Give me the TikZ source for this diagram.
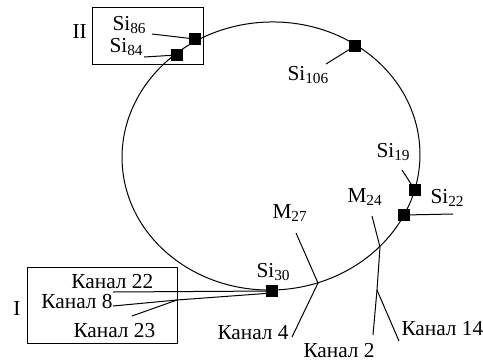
\documentclass[tikz,border=0pt]{standalone}
\usepackage{fontspec}
\setmainfont{Liberation Serif}
\newfontfamily\lserif{Liberation Serif}
\newcommand{\sbs}[1]{\raisebox{-2.6pt}{\fontsize{11.5}{12}\selectfont #1}}
\begin{document}
\begin{tikzpicture}[x=0.75pt,y=-0.75pt,line width=0.75pt,
  lbl/.style={inner sep=0pt,anchor=base west,font=\lserif\fontsize{16}{18}\selectfont},
  sq/.style={fill=black,draw=none,minimum size=8.5pt,inner sep=0pt},
  frame/.style={draw=black,line width=0.75pt}]
\useasboundingbox (0,0) rectangle (483,362);
% loop
\draw[rotate around={3:(271,156)}] (271,156) ellipse [x radius=111.75pt, y radius=100.5pt];
% boxes
\node[frame,inner sep=0pt,minimum width=83.25pt,minimum height=42.75pt] (boxII) at (147.5,35.5) {};
\node[frame,inner sep=0pt,minimum width=112.5pt,minimum height=57pt] (boxI) at (102,305) {};
% squares
\node[sq] (s86) at (195,39) {};
\node[sq] (s84) at (177,55) {};
\node[sq] (s106) at (355,46) {};
\node[sq] (s19) at (415,190) {};
\node[sq] (s22) at (404,215) {};
\node[sq] (s30) at (272,291) {};
% labels
\node[lbl] (tII) at (72,38) {II};
\node[lbl] (tI) at (13,315) {I};
\node[lbl] (t86) at (112,30) {Si\sbs{86}};
\node[lbl] (t84) at (109,52) {Si\sbs{84}};
\node[lbl] (t106) at (287,80) {Si\sbs{106}};
\node[lbl] (t19) at (376,157) {Si\sbs{19}};
\node[lbl] (t22) at (430,203) {Si\sbs{22}};
\node[lbl] (t30) at (256,277) {Si\sbs{30}};
\node[lbl] (tM27) at (272,218) {M\sbs{27}};
\node[lbl] (tM24) at (347,202) {M\sbs{24}};
\node[lbl] (k22) at (71,288) {Канал 22};
\node[lbl] (k8) at (41,308) {Канал 8};
\node[lbl] (k23) at (73,337) {Канал 23};
\node[lbl] (k4) at (217,339) {Канал 4};
\node[lbl] (k2) at (303,357) {Канал 2};
\node[lbl] (k14) at (401,335) {Канал 14};
% connector ends
\coordinate (e86) at (152,34);
\coordinate (e84) at (144,57);
\coordinate (e106) at (326,64);
\coordinate (e19) at (402,170);
\coordinate (e22) at (453,214);
\coordinate (e22k) at (113,292);
\coordinate (e8k) at (113,306);
\coordinate (e23k) at (132,316);
\coordinate (mrg) at (177,300);
\coordinate (m27a) at (296,233);
\coordinate (m27x) at (318,283);
\coordinate (e4k) at (292,337);
\coordinate (m24a) at (372,216);
\coordinate (m24x) at (380,247);
\coordinate (m24b) at (377,290);
\coordinate (e2k) at (373,335);
\coordinate (e14k) at (399,341);
% connectors
\draw (e86) -- (s86.center);
\draw (e84) -- (s84.center);
\draw (e106) -- (s106.center);
\draw (e19) -- (s19.center);
\draw (s22.center) -- (e22);
\draw (e22k) -- (s30.center);
\draw (e8k) -- (mrg) -- ([yshift=-1.5pt]s30.center);
\draw (e23k) -- (mrg);
\draw (m27a) -- (m27x) -- (e4k);
\draw (m24a) -- (m24x) -- (m24b) -- (e2k);
\draw (m24b) -- (e14k);
\end{tikzpicture}
\end{document}
